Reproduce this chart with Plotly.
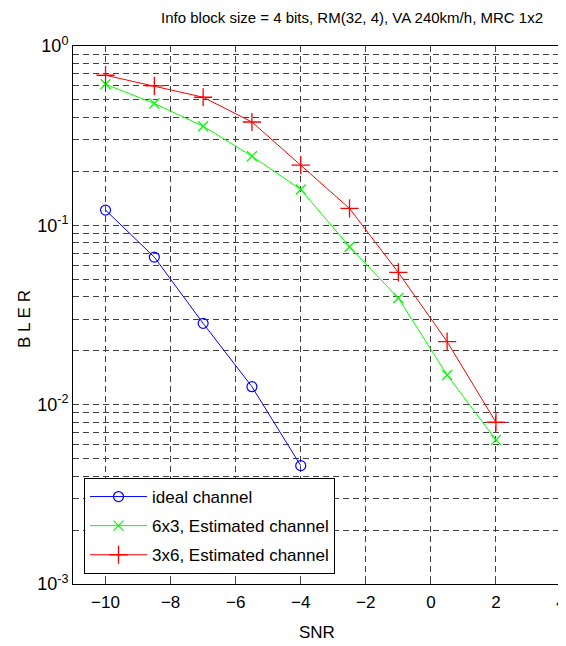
import plotly.graph_objects as go

snr = [-10, -8.5, -7, -5.5, -4, -2.5, -1, 0.5, 2]
snr_ideal = [-10, -8.5, -7, -5.5, -4]
bler_ideal = [0.1216, 0.0665, 0.0284, 0.0126, 0.00457]
bler_6x3 = [0.612, 0.478, 0.357, 0.243, 0.1585, 0.0759, 0.0393, 0.01464, 0.00636]
bler_3x6 = [0.687, 0.599, 0.518, 0.377, 0.2165, 0.1242, 0.0546, 0.02244, 0.00798]

x_ticks = [-10, -8, -6, -4, -2, 0, 2, 4]
y_ticks = [1e-3, 1e-2, 1e-1, 1e0]
y_ticktext = ["10<sup>-3</sup>", "10<sup>-2</sup>", "10<sup>-1</sup>", "10<sup>0</sup>"]
y_minor = [m * 10 ** e for e in (-3, -2, -1) for m in range(2, 10)]

title = "Info block size = 4 bits, RM(32, 4), VA 240km/h, MRC 1x2"
x_title = "SNR"
y_title = "B L E R"

# page body has an 8px margin, so the figure is 8px smaller than the window
W, H = 558, 638
ML, MR, MT, MB = 65, 5, 38, 62
PW, PH = W - ML - MR, H - MT - MB

fig = go.Figure()
fig.add_trace(go.Scatter(x=snr_ideal, y=bler_ideal, mode="lines+markers", name="ideal channel",
                         legendgroup="a",
                         line=dict(color="#0000ff", width=1),
                         marker=dict(symbol="circle-open", size=10, color="#0000ff", line=dict(width=1.2))))
fig.add_trace(go.Scatter(x=snr, y=bler_6x3, mode="lines+markers", name="6x3, Estimated channel",
                         legendgroup="b",
                         line=dict(color="#00ff00", width=1),
                         marker=dict(symbol="x-thin-open", size=10, color="#00ff00", line=dict(width=1.3, color="#00ff00"))))
fig.add_trace(go.Scatter(x=snr, y=bler_3x6, mode="lines+markers", name="3x6, Estimated channel",
                         legendgroup="c",
                         line=dict(color="#ff0000", width=1),
                         marker=dict(symbol="cross-thin-open", size=13, color="#ff0000", line=dict(width=1.3, color="#ff0000"))))

font = "Liberation Sans, Arial, sans-serif"
grid = dict(showgrid=True, gridcolor="#404040", gridwidth=1, griddash="6px,4px")

fig.update_layout(
    width=W, height=H,
    margin=dict(l=ML, r=MR, t=MT, b=MB, autoexpand=False),
    paper_bgcolor="white", plot_bgcolor="white",
    font=dict(family=font, size=17, color="black"),
    title=dict(text=title, x=344 / W, xanchor="center", xref="container",
               y=1 - 15 / H, yanchor="bottom", yref="container",
               font=dict(family=font, size=15, color="black")),
    showlegend=True,
    legend=dict(x=(76 - ML) / PW, y=(H - MB - 566) / PH,
                xanchor="left", yanchor="bottom",
                bgcolor="white", bordercolor="black", borderwidth=1,
                font=dict(family=font, size=17, color="black"),
                traceorder="grouped", tracegroupgap=4, itemwidth=57),
    xaxis=dict(range=[-11, 4], tickvals=x_ticks, ticks="inside", ticklen=5,
               showline=True, linecolor="black", linewidth=1, mirror="ticks",
               zeroline=False, automargin=False, ticklabelstandoff=3,
               tickfont=dict(size=17), **grid),
    yaxis=dict(type="log", range=[-3, 0], tickvals=y_ticks, ticktext=y_ticktext,
               ticks="inside", ticklen=5,
               showline=True, linecolor="black", linewidth=1, mirror="ticks",
               zeroline=False, automargin=False,
               tickfont=dict(size=18),
               minor=dict(tickvals=y_minor, ticks="inside", ticklen=3, showgrid=True,
                          gridcolor="#404040", gridwidth=1, griddash="6px,4px"),
               **grid),
    annotations=[
        dict(text=x_title, xref="paper", yref="paper", x=0.5, y=-(624 - (H - MB)) / PH,
             xanchor="center", yanchor="middle", showarrow=False, font=dict(size=17)),
        dict(text=y_title, xref="paper", yref="paper", x=-(ML - 16) / PW, y=0.5 - (311 - (MT + PH / 2)) / PH,
             xanchor="center", yanchor="middle", textangle=-90, showarrow=False, font=dict(size=17)),
    ],
)

fig.write_html("out.html")
